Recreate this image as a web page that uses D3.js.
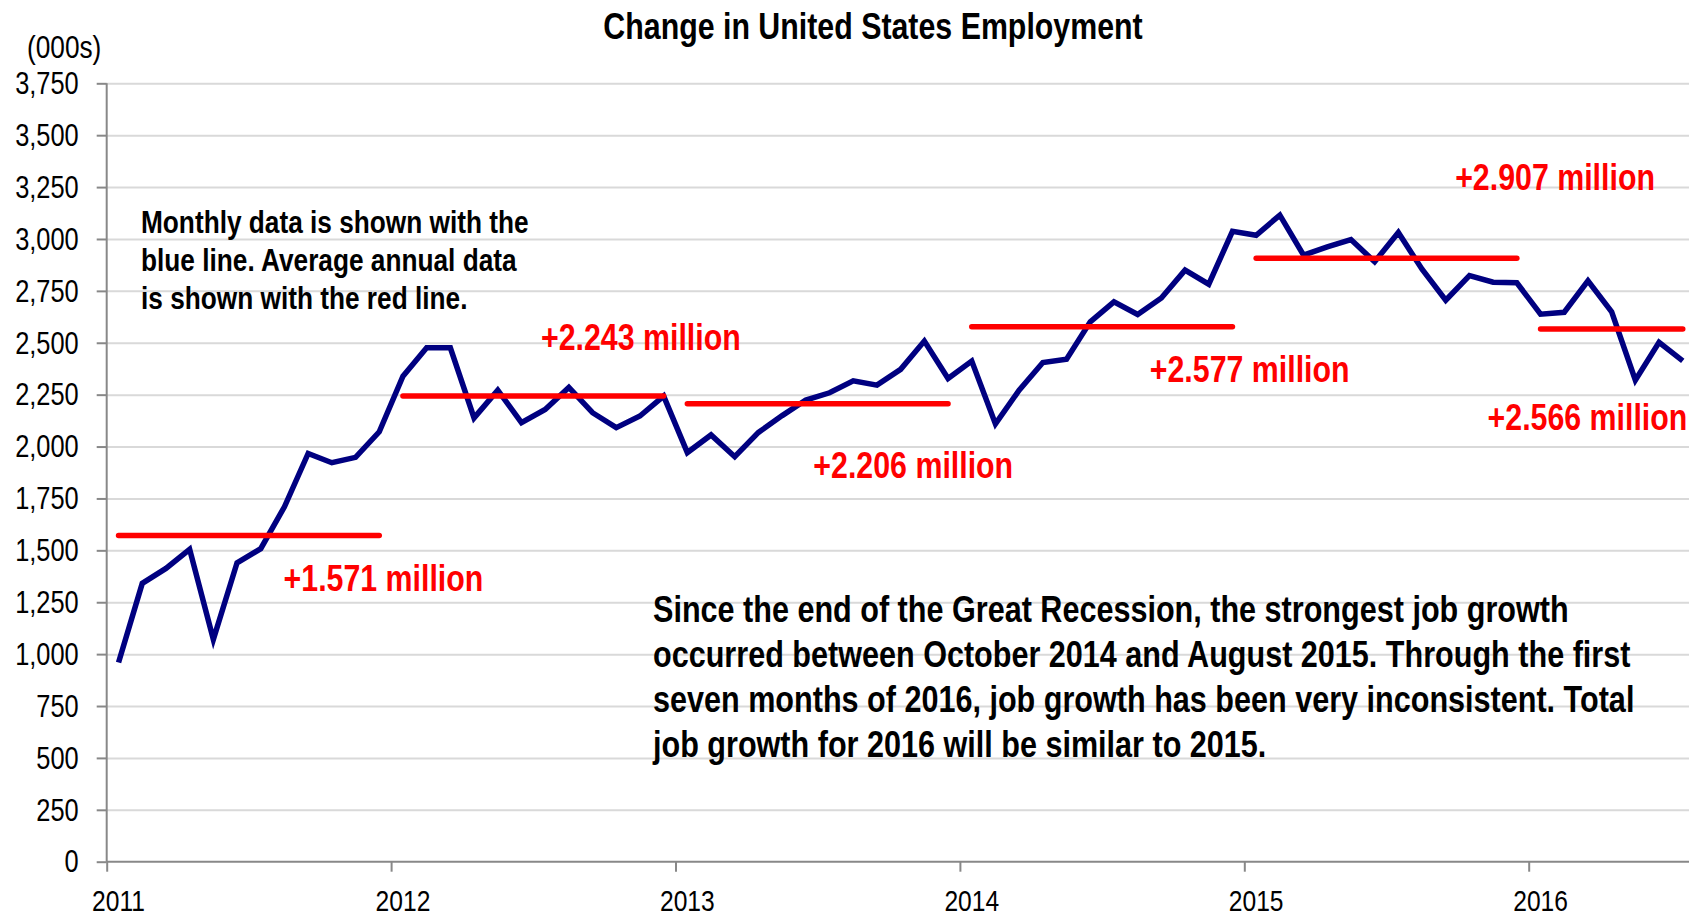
<!DOCTYPE html>
<html>
<head>
<meta charset="utf-8">
<script src="https://cdn.jsdelivr.net/npm/d3@7"></script>
<style>
  body { margin: 0; background: #fff; }
  svg text { font-family: "Liberation Sans", Arial, sans-serif; fill: #000; }
</style>
</head>
<body>
<div id="chart"></div>
<script>
// 12-month change in US employment, thousands
var years = [2011, 2012, 2013, 2014, 2015, 2016]
var jobs2011 = [960, 1341, 1413, 1505, 1071, 1440, 1508, 1710, 1967, 1922, 1948, 2071]
var jobs2012 = [2339, 2476, 2476, 2138, 2272, 2115, 2179, 2285, 2163, 2091, 2147, 2243]
var jobs2013 = [1971, 2056, 1951, 2068, 2149, 2224, 2259, 2317, 2296, 2372, 2508, 2328]
var jobs2014 = [2412, 2109, 2272, 2405, 2421, 2601, 2697, 2636, 2716, 2850, 2782, 3037]
var jobs2015 = [3018, 3115, 2922, 2962, 2997, 2890, 3031, 2854, 2705, 2824, 2792, 2789]
var jobs2016 = [2638, 2647, 2798, 2649, 2320, 2502, 2413]
var annualAvg = [1571, 2243, 2206, 2577, 2907, 2566]
var annualLabels = ["+1.571 million", "+2.243 million", "+2.206 million", "+2.577 million", "+2.907 million", "+2.566 million"]
var yTicks = [0, 250, 500, 750, 1000, 1250, 1500, 1750, 2000, 2250, 2500, 2750, 3000, 3250, 3500, 3750]

var byYear = [jobs2011, jobs2012, jobs2013, jobs2014, jobs2015, jobs2016]
var monthly = [].concat(...byYear)

var W = 1689, H = 916
var plotLeft = 106.7, plotBottom = 861.7, plotTop = 83.3, monthW = 23.7
var narrowX = 0.82 // no Arial Narrow here, squeeze Liberation Sans instead

// label placement relative to start of each red line (px)
var labelOffsets = [[165, 55], [138, -46], [126, 74], [178, 55], [199, -68], [-53, 101]]

var svg = d3.select("#chart").append("svg")
    .attr("width", W).attr("height", H)

var x = d3.scaleLinear().domain([0, 67]).range([plotLeft, plotLeft + 67 * monthW])
var y = d3.scaleLinear().domain([0, 3750]).range([plotBottom, plotTop])

function narrow(sel, px, py) {
  sel.attr("x", 0).attr("y", 0)
     .attr("transform", (d, i) => `translate(${typeof px == "function" ? px(d, i) : px},${typeof py == "function" ? py(d, i) : py}) scale(${narrowX},1)`)
  return sel
}

// gridlines
svg.append("g")
    .attr("transform", `translate(${plotLeft},0)`)
    .call(d3.axisRight(y).tickValues(yTicks.slice(1)).tickSize(W - plotLeft).tickFormat(""))
    .call(g => g.select(".domain").remove())
    .selectAll("line").attr("stroke", "#d9d9d9").attr("stroke-width", 2)

// y axis
var ya = svg.append("g")
    .attr("transform", `translate(${plotLeft},0)`)
    .call(d3.axisLeft(y).tickValues(yTicks).tickSize(10).tickFormat(d3.format(",")))
ya.select(".domain").attr("d", `M0,${plotTop}V${plotBottom}`)
ya.selectAll("path,line").attr("stroke", "#888").attr("stroke-width", 2)
narrow(ya.selectAll("text"), -28, 0)
    .attr("dy", "0.33em").attr("font-size", 31).attr("font-family", null)

// x axis, ticks on year boundaries
var xa = svg.append("g")
    .attr("transform", `translate(0,${plotBottom})`)
    .call(d3.axisBottom(x).tickValues(years.map((d, i) => i * 12)).tickSize(10).tickFormat(""))
xa.select(".domain").attr("d", `M${plotLeft},0H${W}`)
xa.selectAll("path,line").attr("stroke", "#888").attr("stroke-width", 2)

narrow(svg.append("g").selectAll("text")
  .data(years).enter().append("text"), (d, i) => x(i * 12 + 0.5), 910.7)
    .attr("text-anchor", "middle")
    .attr("font-size", 30)
    .text(d => d)

// monthly line
var line = d3.line()
    .x((d, i) => x(i + 0.5))
    .y(d => y(d))

svg.append("path")
    .datum(monthly)
    .attr("fill", "none")
    .attr("stroke", "#000080")
    .attr("stroke-width", 5.5)
    .attr("d", line)

// annual averages
svg.append("g").selectAll("line")
  .data(annualAvg).enter().append("line")
    .attr("x1", (d, i) => x(i * 12 + 0.5))
    .attr("x2", (d, i) => x(i * 12 + byYear[i].length - 0.5))
    .attr("y1", d => y(d)).attr("y2", d => y(d))
    .attr("stroke", "#ff0000")
    .attr("stroke-width", 5.5)
    .attr("stroke-linecap", "round")

narrow(svg.append("g").selectAll("text")
  .data(annualAvg).enter().append("text"),
    (d, i) => x(i * 12 + 0.5) + labelOffsets[i][0],
    (d, i) => y(d) + labelOffsets[i][1])
    .attr("font-size", 37)
    .attr("font-weight", "bold")
    .style("fill", "#ff0000")
    .text((d, i) => annualLabels[i])

// title and unit
narrow(svg.append("text"), 873, 39)
    .attr("text-anchor", "middle")
    .attr("font-size", 37).attr("font-weight", "bold")
    .text("Change in United States Employment")

narrow(svg.append("text"), 27, 58)
    .attr("font-size", 32)
    .text("(000s)")

// notes
function note(lines, x0, y0, lh, fs) {
  var t = svg.append("text").attr("font-size", fs).attr("font-weight", "bold")
      .attr("transform", `translate(${x0},${y0}) scale(${narrowX},1)`)
  t.selectAll("tspan").data(lines).enter().append("tspan")
      .attr("x", 0).attr("y", (d, i) => i * lh)
      .text(d => d)
}

note(["Monthly data is shown with the",
      "blue line. Average annual data",
      "is shown with the red line."], 141, 233, 38.2, 32)

note(["Since the end of the Great Recession, the strongest job growth",
      "occurred between October 2014 and August 2015. Through the first",
      "seven months of 2016, job growth has been very inconsistent. Total",
      "job growth for 2016 will be similar to 2015."], 653, 622, 44.9, 37.3)
</script>
</body>
</html>
